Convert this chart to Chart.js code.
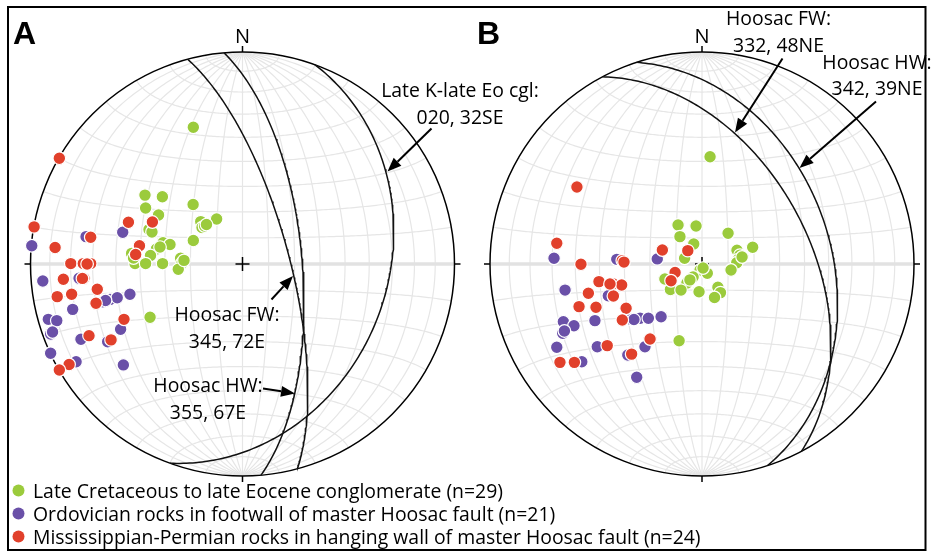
<!DOCTYPE html>
<html>
<head>
<meta charset="utf-8">
<script src="https://cdn.jsdelivr.net/npm/chart.js@4.4.1/dist/chart.umd.min.js"></script>
<style>
  html, body { margin: 0; padding: 0; background: #fff; }
  canvas { display: block; }
</style>
</head>
<body>
<canvas id="stereoChart" width="932" height="554"></canvas>
<script>
// Poles, in equal-area net units (east, north), radius of the primitive = 1
const conglomerateA = [
    [-0.232, 0.645], [-0.460, 0.325], [-0.378, 0.317], [-0.233, 0.281], [-0.457, 0.264],
    [-0.396, 0.231], [-0.197, 0.200], [-0.122, 0.212], [-0.441, 0.163], [-0.191, 0.172],
    [-0.179, 0.179], [-0.170, 0.186], [-0.232, 0.111], [-0.375, 0.100], [-0.342, 0.092],
    [-0.406, 0.071], [-0.434, 0.040], [-0.523, 0.050], [-0.507, 0.002], [-0.457, 0.002],
    [-0.377, 0.002], [-0.292, 0.027], [-0.285, 0.005], [-0.303, -0.025], [-0.436, -0.251],
    [-0.514, 0.028], [-0.427, 0.151], [-0.389, 0.080], [-0.276, 0.017]
];
const footwallA = [
    [-0.565, 0.150], [-0.738, 0.129], [-0.994, 0.086], [-0.942, -0.080], [-0.771, -0.067],
    [-0.801, -0.214], [-0.659, -0.178], [-0.625, -0.167], [-0.591, -0.159], [-0.531, -0.143],
    [-0.916, -0.261], [-0.876, -0.267], [-0.905, -0.330], [-0.762, -0.355], [-0.575, -0.308],
    [-0.636, -0.367], [-0.905, -0.421], [-0.785, -0.461], [-0.562, -0.476], [-0.896, -0.321],
    [-0.646, -0.172]
];
const hangingA = [
    [-0.864, 0.499], [-0.538, 0.197], [-0.425, 0.198], [-0.983, 0.175], [-0.716, 0.126],
    [-0.884, 0.078], [-0.486, 0.086], [-0.504, 0.045], [-0.810, 0.002], [-0.751, 0.002],
    [-0.716, 0.002], [-0.845, -0.072], [-0.748, -0.067], [-0.685, -0.119], [-0.874, -0.154],
    [-0.806, -0.143], [-0.691, -0.185], [-0.559, -0.261], [-0.724, -0.338], [-0.620, -0.358],
    [-0.818, -0.474], [-0.864, -0.500], [-0.733, 0.000], [-0.755, -0.068]
];
const conglomerateB = [
    [0.038, 0.506], [-0.113, 0.184], [-0.028, 0.179], [0.123, 0.145], [-0.104, 0.129],
    [-0.039, 0.094], [-0.082, 0.027], [0.165, 0.065], [0.179, 0.042], [0.171, 0.021],
    [0.164, 0.006], [0.239, 0.079], [0.137, -0.028], [-0.009, -0.028], [0.025, -0.044],
    [-0.042, -0.061], [-0.071, -0.090], [-0.160, -0.075], [-0.149, -0.120], [-0.099, -0.123],
    [-0.014, -0.131], [0.075, -0.110], [0.087, -0.135], [0.059, -0.158], [-0.108, -0.362],
    [-0.175, -0.071], [-0.057, -0.075], [0.005, -0.019], [0.189, 0.033]
];
const footwallB = [
    [-0.698, 0.027], [-0.402, 0.022], [-0.211, 0.024], [-0.646, -0.123], [-0.442, -0.150],
    [-0.654, -0.272], [-0.604, -0.291], [-0.657, -0.327], [-0.505, -0.267], [-0.336, -0.261],
    [-0.292, -0.256], [-0.253, -0.256], [-0.193, -0.249], [-0.685, -0.393], [-0.494, -0.390],
    [-0.269, -0.390], [-0.350, -0.429], [-0.567, -0.461], [-0.308, -0.534], [-0.649, -0.316],
    [-0.321, -0.262]
];
const hangingB = [
    [-0.590, 0.363], [-0.685, 0.098], [-0.187, 0.066], [-0.067, 0.063], [-0.376, 0.016],
    [-0.571, -0.001], [-0.127, -0.040], [-0.146, -0.079], [-0.486, -0.083], [-0.418, -0.094],
    [-0.379, -0.099], [-0.536, -0.138], [-0.418, -0.151], [-0.580, -0.201], [-0.500, -0.204],
    [-0.358, -0.209], [-0.376, -0.264], [-0.245, -0.354], [-0.447, -0.385], [-0.332, -0.425],
    [-0.670, -0.464], [-0.602, -0.464], [-0.434, -0.094], [-0.368, 0.009]
];

// Planes shown as great circles (strike, dip; right-hand rule)
const faultStrikeA = [20, 345, 355];
const faultDipA = [32, 72, 67];
const faultStrikeB = [332, 342];
const faultDipB = [48, 39];

const seriesLabels = [
    'Late Cretaceous to late Eocene conglomerate (n=29)',
    'Ordovician rocks in footwall of master Hoosac fault (n=21)',
    'Mississippian-Permian rocks in hanging wall of master Hoosac fault (n=24)'
];
const seriesColors = ['#9bcb3c', '#6a50a8', '#e1402b'];

// layout
const NET_R = 212;                 // px per net unit
const NET_A_PX = [242.5, 264];
const NET_B_X = (702 - 242.5) / NET_R;
const netOffsets = [0, NET_B_X];
const FONT = '"Open Sans", "Noto Sans", sans-serif';

function project(e, n, d) {
    // lower hemisphere, equal-area (Schmidt), primitive radius 1
    if (d < 0) { e = -e; n = -n; d = -d; }
    const f = 1 / Math.sqrt(1 + d);
    return [e * f, n * f];
}

function greatCircle(strike, dip) {
    const s = strike * Math.PI / 180, dp = dip * Math.PI / 180, dd = s + Math.PI / 2;
    const S = [Math.sin(s), Math.cos(s), 0];
    const D = [Math.cos(dp) * Math.sin(dd), Math.cos(dp) * Math.cos(dd), Math.sin(dp)];
    const pts = [];
    for (let a = 0; a <= 180; a += 1) {
        const c = Math.cos(a * Math.PI / 180), sn = Math.sin(a * Math.PI / 180);
        pts.push(project(c * S[0] + sn * D[0], c * S[1] + sn * D[1], c * S[2] + sn * D[2]));
    }
    return pts;
}

function smallCircle(beta) {
    // cone of lines at angle beta from the north horizontal axis
    const b = beta * Math.PI / 180;
    const pts = [];
    for (let a = 0; a <= 180; a += 1) {
        const p = a * Math.PI / 180;
        pts.push(project(Math.sin(b) * Math.cos(p), Math.cos(b), Math.sin(b) * Math.sin(p)));
    }
    return pts;
}

const toXY = (pts, off) => pts.map(p => ({ x: p[0] + off, y: p[1] }));

function poleSet(label, pts, off, colorIdx) {
    return {
        label: label,
        data: toXY(pts, off),
        backgroundColor: seriesColors[colorIdx],
        borderColor: '#ffffff',
        borderWidth: 1.2,
        pointRadius: 6.3,
        pointHoverRadius: 6.3,
        order: colorIdx === 2 ? 0 : (colorIdx === 1 ? 1 : 2)
    };
}

function planeSet(strike, dip, off) {
    return {
        label: strike + '/' + dip,
        data: toXY(greatCircle(strike, dip), off),
        showLine: true,
        borderColor: '#111111',
        borderWidth: 1.5,
        pointRadius: 0,
        fill: false,
        tension: 0,
        order: 5
    };
}

const datasets = [
    poleSet(seriesLabels[0], conglomerateA, 0, 0),
    poleSet(seriesLabels[1], footwallA, 0, 1),
    poleSet(seriesLabels[2], hangingA, 0, 2),
    poleSet(seriesLabels[0], conglomerateB, NET_B_X, 0),
    poleSet(seriesLabels[1], footwallB, NET_B_X, 1),
    poleSet(seriesLabels[2], hangingB, NET_B_X, 2)
];
faultStrikeA.forEach((s, i) => datasets.push(planeSet(s, faultDipA[i], 0)));
faultStrikeB.forEach((s, i) => datasets.push(planeSet(s, faultDipB[i], NET_B_X)));

// annotation text (centre x, first baseline) and arrows (tail -> tip), px
const notes = [
    { lines: ['Late K-late Eo cgl:', '020, 32SE'], x: 460, y: 97 },
    { lines: ['Hoosac FW:', '345, 72E'], x: 227, y: 321 },
    { lines: ['Hoosac HW:', '355, 67E'], x: 208, y: 392 },
    { lines: ['Hoosac FW:', '332, 48NE'], x: 778.5, y: 25 },
    { lines: ['Hoosac HW:', '342, 39NE'], x: 877, y: 68.5 }
];
const arrows = [
    [431.5, 128.5, 387.5, 171.5],
    [271.5, 299.5, 293, 276],
    [263, 388.5, 295, 393.5],
    [782.5, 58.5, 735, 132.5],
    [876, 101.5, 799.5, 168]
];

let squeeze = 1;

function strokePath(ctx, pts) {
    ctx.beginPath();
    pts.forEach((p, i) => i ? ctx.lineTo(p[0], p[1]) : ctx.moveTo(p[0], p[1]));
    ctx.stroke();
}

function text(ctx, str, x, y, align) {
    ctx.save();
    ctx.translate(x, y);
    ctx.scale(squeeze, 1);
    ctx.textAlign = align || 'center';
    ctx.textBaseline = 'alphabetic';
    ctx.fillText(str, 0, 0);
    ctx.restore();
}

function arrow(ctx, x1, y1, x2, y2) {
    const ang = Math.atan2(y2 - y1, x2 - x1), len = 14, hw = 5.5;
    const bx = x2 - len * Math.cos(ang), by = y2 - len * Math.sin(ang);
    ctx.beginPath();
    ctx.moveTo(x1, y1);
    ctx.lineTo(bx, by);
    ctx.lineWidth = 2;
    ctx.strokeStyle = '#000';
    ctx.stroke();
    ctx.beginPath();
    ctx.moveTo(x2, y2);
    ctx.lineTo(bx + hw * Math.sin(ang), by - hw * Math.cos(ang));
    ctx.lineTo(bx - hw * Math.sin(ang), by + hw * Math.cos(ang));
    ctx.closePath();
    ctx.fillStyle = '#000';
    ctx.fill();
}

const stereonetPlugin = {
    id: 'stereonet',
    beforeDatasetsDraw(chart) {
        const ctx = chart.ctx, xs = chart.scales.x, ys = chart.scales.y;
        netOffsets.forEach(off => {
            const cx = xs.getPixelForValue(off), cy = ys.getPixelForValue(0);
            const r = xs.getPixelForValue(off + 1) - cx;
            const px = pts => pts.map(p => [xs.getPixelForValue(p[0] + off), ys.getPixelForValue(p[1])]);
            ctx.save();
            ctx.beginPath();
            ctx.arc(cx, cy, r, 0, Math.PI * 2);
            ctx.clip();
            ctx.strokeStyle = '#e6e6e6';
            ctx.lineWidth = 1.2;
            for (let d = 10; d <= 80; d += 10) {
                strokePath(ctx, px(greatCircle(0, d)));
                strokePath(ctx, px(greatCircle(180, d)));
            }
            strokePath(ctx, px(greatCircle(0, 90)));
            for (let b = 10; b < 180; b += 10) {
                if (b !== 90) strokePath(ctx, px(smallCircle(b)));
            }
            ctx.strokeStyle = '#e2e2e2';
            ctx.lineWidth = 3.5;
            ctx.beginPath();
            ctx.moveTo(cx - r, cy);
            ctx.lineTo(cx + r, cy);
            ctx.stroke();
            ctx.restore();

            ctx.save();
            ctx.strokeStyle = '#000';
            ctx.lineWidth = 1.5;
            ctx.beginPath();
            ctx.arc(cx, cy, r, 0, Math.PI * 2);
            ctx.stroke();
            ctx.beginPath();
            ctx.moveTo(cx, cy - r); ctx.lineTo(cx, cy - r - 6);
            ctx.moveTo(cx, cy + r); ctx.lineTo(cx, cy + r + 6);
            ctx.moveTo(cx - r, cy); ctx.lineTo(cx - r - 6, cy);
            ctx.moveTo(cx + r, cy); ctx.lineTo(cx + r + 6, cy);
            ctx.moveTo(cx - 7, cy); ctx.lineTo(cx + 7, cy);
            ctx.moveTo(cx, cy - 7); ctx.lineTo(cx, cy + 7);
            ctx.stroke();
            ctx.fillStyle = '#000';
            ctx.font = '20px ' + FONT;
            text(ctx, 'N', cx, cy - r - 9);
            ctx.restore();
        });
    },
    afterDraw(chart) {
        const ctx = chart.ctx;
        ctx.save();
        ctx.font = '20px ' + FONT;
        squeeze = 470 / ctx.measureText(seriesLabels[0]).width;
        ctx.fillStyle = '#000';

        notes.forEach(n => n.lines.forEach((l, i) => text(ctx, l, n.x, n.y + i * 26.5)));
        arrows.forEach(a => arrow(ctx, a[0], a[1], a[2], a[3]));

        // legend
        seriesLabels.forEach((l, i) => {
            const y = 498 + i * 23;
            ctx.beginPath();
            ctx.arc(18.5, y - 7.5, 6, 0, Math.PI * 2);
            ctx.fillStyle = seriesColors[i];
            ctx.fill();
            ctx.fillStyle = '#000';
            text(ctx, l, 33, y, 'left');
        });

        ctx.font = 'bold 32px "Liberation Sans", Arial, sans-serif';
        ctx.textAlign = 'left';
        ctx.fillText('A', 13, 43.5);
        ctx.fillText('B', 477, 43.5);

        ctx.strokeStyle = '#000';
        ctx.lineWidth = 2;
        ctx.strokeRect(8, 7, 917.5, 543);
        ctx.restore();
    }
};

new Chart(document.getElementById('stereoChart'), {
    type: 'scatter',
    data: { datasets: datasets },
    options: {
        responsive: false,
        animation: false,
        events: [],
        layout: { padding: 0, autoPadding: false },
        plugins: {
            legend: { display: false },
            tooltip: { enabled: false }
        },
        scales: {
            x: {
                type: 'linear',
                display: false,
                min: -NET_A_PX[0] / NET_R,
                max: (932 - NET_A_PX[0]) / NET_R
            },
            y: {
                type: 'linear',
                display: false,
                min: -(554 - NET_A_PX[1]) / NET_R,
                max: NET_A_PX[1] / NET_R
            }
        }
    },
    plugins: [stereonetPlugin]
});
</script>
</body>
</html>
